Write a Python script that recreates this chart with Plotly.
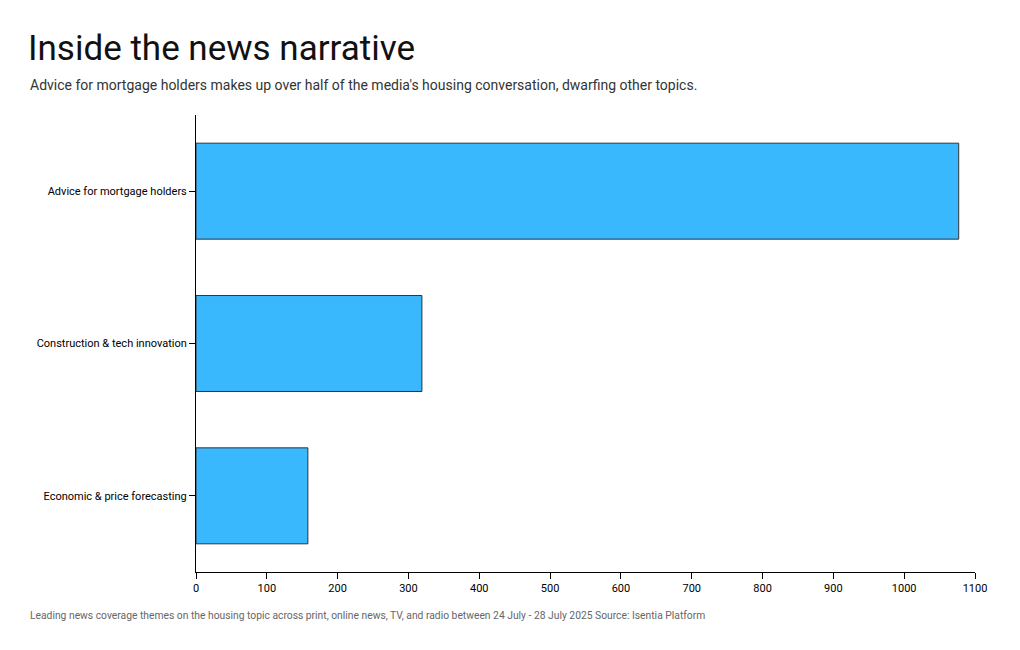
import plotly.graph_objects as go

categories = ["Advice for mortgage holders", "Construction & tech innovation", "Economic & price forecasting"]
values = [1077, 319, 158]
tick_vals = list(range(0, 1101, 100))

fig = go.Figure(go.Bar(
    y=categories, x=values, orientation="h",
    marker=dict(color="#3ab8fe", line=dict(color="#333333", width=1)),
    width=0.63, hoverinfo="x+y"))

fig.update_layout(
    width=1020, height=650,
    margin=dict(l=188, r=53, t=107, b=86),
    paper_bgcolor="white", plot_bgcolor="white",
    font=dict(family="Roboto", color="#000"),
    showlegend=False,
    title=dict(text="Inside the news narrative", x=20/1020, xanchor="left",
               y=1-40/650, yanchor="middle", font=dict(size=35, color="#111")),
)
fig.update_yaxes(autorange="reversed", showline=True, linecolor="#000", linewidth=1,
                 ticks="outside", ticklen=6, tickcolor="#000", tickfont=dict(size=11),
                 showgrid=False)
fig.update_xaxes(range=[0, 1100], tickvals=tick_vals, showline=True, linecolor="#000",
                 linewidth=1, ticks="outside", ticklen=6, tickcolor="#000",
                 tickfont=dict(size=11), showgrid=False, zeroline=False, mirror=False)
fig.add_annotation(text="Advice for mortgage holders makes up over half of the media's housing conversation, dwarfing other topics.",
                   xref="paper", yref="paper", x=-168/779, y=1+(115-85)/457, xanchor="left",
                   yanchor="middle", showarrow=False, font=dict(size=14, color="#333"))
fig.add_annotation(text="Leading news coverage themes on the housing topic across print, online news, TV, and radio between 24 July - 28 July 2025 Source: Isentia Platform",
                   xref="paper", yref="paper", x=-168/779, y=-(615-572)/457, xanchor="left",
                   yanchor="middle", showarrow=False, font=dict(size=10.3, color="#666"))
fig.write_html("out.html")
